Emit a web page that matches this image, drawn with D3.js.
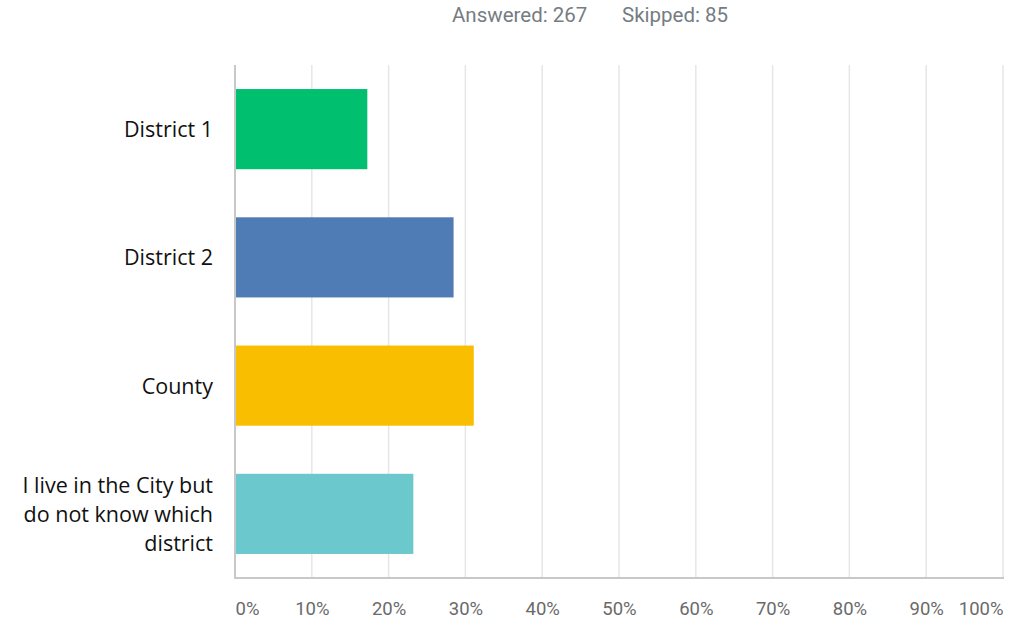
<!DOCTYPE html>
<html>
<head>
<meta charset="utf-8">
<script src="https://cdn.jsdelivr.net/npm/d3@7"></script>
<style>
  html, body { margin: 0; padding: 0; background: #fff; }
  svg { display: block; }
</style>
</head>
<body>
<svg id="chart" width="1010" height="625"></svg>
<script>
// Survey responses by location
const categories = ["District 1", "District 2", "County", "I live in the City but do not know which district"];
const categoryLines = [["District 1"], ["District 2"], ["County"], ["I live in the City but", "do not know which", "district"]];
const percents = [17.23, 28.46, 31.09, 23.22];
const colors = ["#00bf6f", "#507cb6", "#f9be00", "#6bc8cd"];
const tickValues = [0, 10, 20, 30, 40, 50, 60, 70, 80, 90, 100];
const tickLabels = ["0%", "10%", "20%", "30%", "40%", "50%", "60%", "70%", "80%", "90%", "100%"];
const answered = 267, skipped = 85;

const svg = d3.select("#chart");
const margin = { left: 235, right: 7, top: 65, bottom: 47 };
const W = 1010, H = 625;

const x = d3.scaleLinear().domain([0, 100]).range([margin.left, W - margin.right]);
const y = d3.scaleBand().domain(categories).range([margin.top, H - margin.bottom]).paddingInner(0.375).paddingOuter(0.1875);

// header summary
const header = svg.append("g").attr("font-family", "Roboto, 'Liberation Sans', sans-serif")
  .attr("font-size", 20.5).attr("fill", "#767c82");
header.append("text").attr("x", 452).attr("y", 22).text(`Answered: ${answered}`);
header.append("text").attr("x", 622).attr("y", 22).text(`Skipped: ${skipped}`);

// vertical gridlines
svg.append("g").selectAll("line").data(tickValues.slice(1)).join("line")
  .attr("x1", d => x(d)).attr("x2", d => x(d))
  .attr("y1", margin.top).attr("y2", H - margin.bottom)
  .attr("stroke", "#e6e6e6").attr("stroke-width", 1.5);

// bars
svg.append("g").selectAll("rect").data(categories).join("rect")
  .attr("x", x(0))
  .attr("y", d => y(d))
  .attr("width", (d, i) => x(percents[i]) - x(0))
  .attr("height", y.bandwidth())
  .attr("fill", (d, i) => colors[i]);

// axis lines
svg.append("line").attr("x1", x(0)).attr("x2", x(0))
  .attr("y1", margin.top).attr("y2", H - margin.bottom)
  .attr("stroke", "#c8c8c8").attr("stroke-width", 2);
svg.append("line").attr("x1", x(0) - 1).attr("x2", x(100) + 1)
  .attr("y1", H - margin.bottom).attr("y2", H - margin.bottom)
  .attr("stroke", "#c8c8c8").attr("stroke-width", 2);

// x tick labels
const xAxis = d3.axisBottom(x).tickValues(tickValues).tickFormat((d, i) => tickLabels[i]).tickSize(0).tickPadding(0);
const gx = svg.append("g").attr("transform", `translate(0,${H - margin.bottom + 37})`).call(xAxis);
gx.select(".domain").remove();
gx.selectAll("text")
  .attr("font-family", "Roboto, 'Liberation Sans', sans-serif")
  .attr("font-size", 18.5).attr("fill", "#6a6a6a").attr("dy", 0)
  .attr("text-anchor", d => d === 0 ? "start" : d === 100 ? "end" : "middle");

// category labels
const lab = svg.append("g").attr("font-family", "'Open Sans', sans-serif")
  .attr("font-size", 21.5).attr("fill", "#111").attr("text-anchor", "end");
categories.forEach((c, i) => {
  const lines = categoryLines[i];
  const cy = y(c) + y.bandwidth() / 2;
  const lh = 29;
  const t = lab.append("text").attr("x", 213);
  lines.forEach((ln, j) => {
    t.append("tspan").attr("x", 213)
      .attr("y", cy + (j - (lines.length - 1) / 2) * lh + 8)
      .text(ln);
  });
});
</script>
</body>
</html>
